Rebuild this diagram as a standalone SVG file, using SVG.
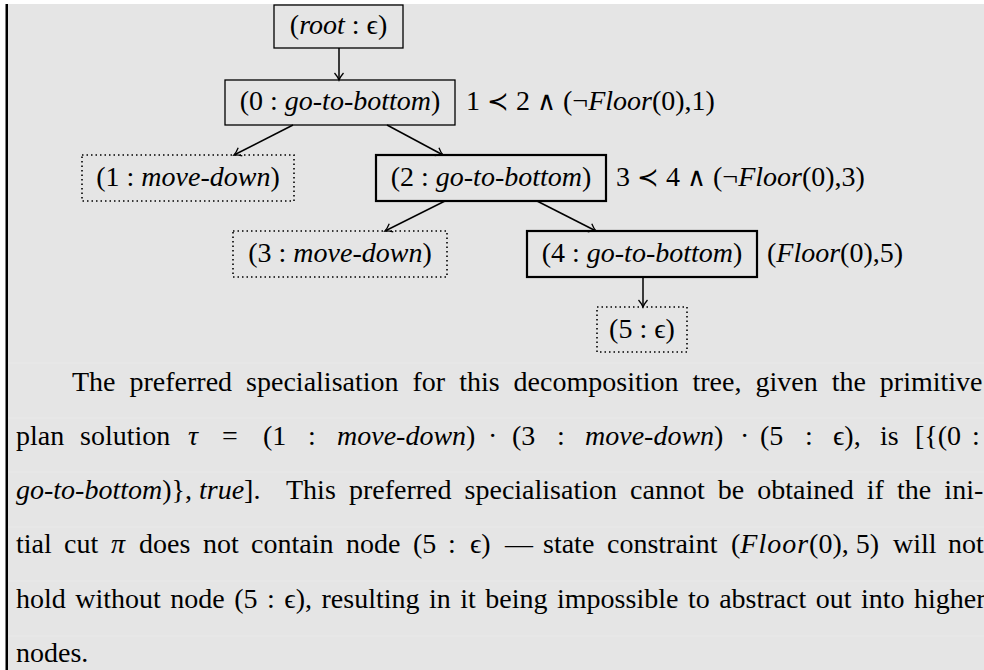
<svg xmlns="http://www.w3.org/2000/svg" width="984" height="670" viewBox="0 0 984 670">
<style>
text { font-family: 'Liberation Serif', 'DejaVu Serif', serif; font-size: 28px; fill: #000; }
.it { font-style: italic; }
.mid { text-anchor: middle; }
.op { font-family: 'DejaVu Serif', 'Noto Sans', serif; font-size: 26px; }
.box { fill: none; stroke: #000; stroke-width: 1.3; }
.bold { fill: none; stroke: #000; stroke-width: 2.2; }
.dot { fill: none; stroke: #000; stroke-width: 1.6; stroke-dasharray: 1.5 3; }
.edge { fill: none; stroke: #000; stroke-width: 1.5; marker-end: url(#ah); }
.stripe { stroke: #eaeaea; stroke-width: 1.2; }
</style>
<defs>
<marker id="ah" markerUnits="userSpaceOnUse" markerWidth="14" markerHeight="14" viewBox="-10 -7 12 14" refX="0" refY="0" orient="auto">
<path d="M-7,-4.5 Q-3,-1 0,0 Q-3,1 -7,4.5" fill="none" stroke="#000" stroke-width="1.3"/>
</marker>
</defs>
<rect x="0" y="0" width="984" height="670" fill="#ffffff"/>
<rect x="8" y="4" width="976" height="666" fill="#e5e5e5"/>
<rect x="5.5" y="4" width="2.5" height="666" fill="#000"/>
<g id="stripes">
<line class="stripe" x1="8" y1="363" x2="984" y2="363"/>
<line class="stripe" x1="8" y1="418" x2="984" y2="418"/>
<line class="stripe" x1="8" y1="472" x2="984" y2="472"/>
<line class="stripe" x1="8" y1="527" x2="984" y2="527"/>
<line class="stripe" x1="8" y1="581" x2="984" y2="581"/>
<line class="stripe" x1="8" y1="636" x2="984" y2="636"/>
</g>
<g id="connectors">
<line class="edge" x1="339" y1="48" x2="339" y2="80"/>
<line class="edge" x1="293" y1="125" x2="234" y2="155"/>
<line class="edge" x1="387" y1="125" x2="443" y2="155"/>
<line class="edge" x1="445" y1="201" x2="385" y2="231"/>
<line class="edge" x1="537" y1="201" x2="596" y2="231"/>
<line class="edge" x1="643" y1="277" x2="643" y2="307"/>
</g>
<g id="node-root">
<rect class="box" x="274" y="5" width="129" height="43"/>
<text class="mid" x="338.5" y="34">(<tspan class="it">root</tspan> : ϵ)</text>
</g>
<g id="node-0">
<rect class="box" x="225" y="80" width="230" height="45"/>
<text class="mid" x="340" y="110">(0 : <tspan class="it">go-to-bottom</tspan>)</text>
<text x="466" y="110">1 <tspan class="op">≺</tspan> 2 <tspan class="op">∧</tspan> (¬<tspan class="it">Floor</tspan>(0),1)</text>
</g>
<g id="node-1">
<rect class="dot" x="82" y="155" width="212" height="46"/>
<text class="mid" x="188" y="186">(1 : <tspan class="it">move-down</tspan>)</text>
</g>
<g id="node-2">
<rect class="bold" x="376" y="155" width="230" height="46"/>
<text class="mid" x="491" y="186">(2 : <tspan class="it">go-to-bottom</tspan>)</text>
<text x="616" y="186">3 <tspan class="op">≺</tspan> 4 <tspan class="op">∧</tspan> (¬<tspan class="it">Floor</tspan>(0),3)</text>
</g>
<g id="node-3">
<rect class="dot" x="233" y="231" width="214" height="46"/>
<text class="mid" x="340" y="262">(3 : <tspan class="it">move-down</tspan>)</text>
</g>
<g id="node-4">
<rect class="bold" x="527" y="231" width="230" height="46"/>
<text class="mid" x="642" y="262">(4 : <tspan class="it">go-to-bottom</tspan>)</text>
<text x="767" y="262">(<tspan class="it">Floor</tspan>(0),5)</text>
</g>
<g id="node-5">
<rect class="dot" x="597" y="307" width="90" height="45"/>
<text class="mid" x="642" y="338">(5 : ϵ)</text>
</g>
<g id="body">
<text x="72" y="391" word-spacing="7">The preferred specialisation for this decomposition tree, given the primitive</text>
<text y="445"><tspan x="16">plan</tspan><tspan x="80">solution</tspan><tspan x="188" class="it">τ</tspan><tspan x="222">=</tspan><tspan x="263">(1</tspan><tspan x="308">:</tspan><tspan x="337" class="it">move-down</tspan>)<tspan x="488">·</tspan><tspan x="512">(3</tspan><tspan x="557">:</tspan><tspan x="585" class="it">move-down</tspan>)<tspan x="740">·</tspan><tspan x="760">(5</tspan><tspan x="805">:</tspan><tspan x="833">ϵ),</tspan><tspan x="880">is</tspan><tspan x="915">[{(0</tspan><tspan x="972">:</tspan></text>
<text y="499"><tspan x="16" class="it">go-to-bottom</tspan>)},<tspan x="199" class="it">true</tspan>].</text>
<text x="286" y="499" word-spacing="6.1">This preferred specialisation cannot be obtained if the ini-</text>
<text y="553"><tspan x="16">tial</tspan><tspan x="64">cut</tspan><tspan x="111" class="it">π</tspan><tspan x="139">does</tspan><tspan x="203">not</tspan><tspan x="251">contain</tspan><tspan x="346">node</tspan><tspan x="413">(5</tspan><tspan x="448">:</tspan><tspan x="470">ϵ)</tspan><tspan x="505">—</tspan><tspan x="543">state</tspan><tspan x="607">constraint</tspan><tspan x="731">(<tspan class="it" letter-spacing="1">Floor</tspan>(0), 5)</tspan><tspan x="893">will</tspan><tspan x="948">not</tspan></text>
<text x="16" y="608" word-spacing="2.5">hold without node (5 : ϵ), resulting in it being impossible to abstract out into higher</text>
<text x="16" y="662">nodes.</text>
</g>
</svg>
